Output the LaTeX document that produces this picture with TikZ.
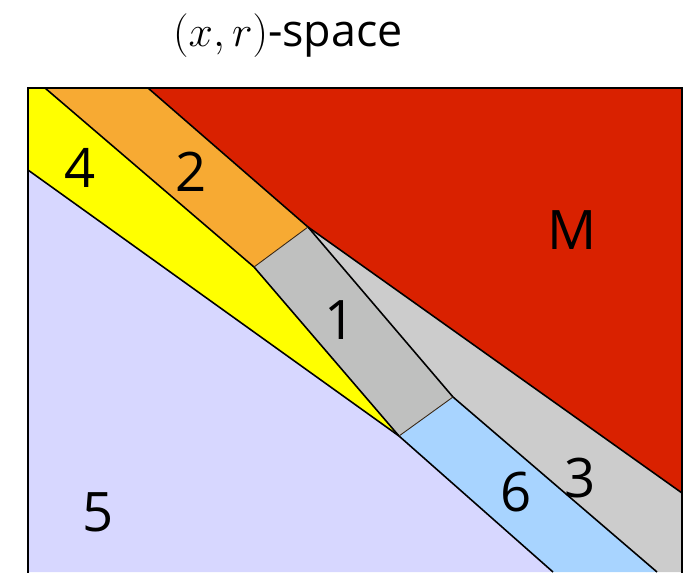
\documentclass[tikz,border=0pt]{standalone}
\usepackage{fontspec}
\setsansfont{Open Sans}
\definecolor{colM}{HTML}{D92100}
\definecolor{colTwo}{HTML}{F7AA33}
\definecolor{colFour}{HTML}{FFFF00}
\definecolor{colFive}{HTML}{D7D7FF}
\definecolor{colOne}{HTML}{BFC0BF}
\definecolor{colThree}{HTML}{CCCCCC}
\definecolor{colSix}{HTML}{A8D4FF}

\begin{document}
\begin{tikzpicture}[x=0.02cm, y=-0.02cm, font=\sffamily,
  area/.style={draw=black, line width=0.9pt, line join=round},
  thin edge/.style={draw=black!70!brown, line width=0.5pt},
  num/.style={font=\sffamily\fontsize{31}{36}\selectfont}]
\useasboundingbox (0,0) rectangle (692,572);
\clip (0,0) rectangle (692,572);
% corners of the regions
\coordinate (tl) at (28,88);
\coordinate (t4) at (45,88);
\coordinate (t2) at (148,88);
\coordinate (tr) at (682,88);
\coordinate (l5) at (28,170);
\coordinate (pA) at (254,267);
\coordinate (pB) at (308,227);
\coordinate (pC) at (453,397);
\coordinate (pD) at (399,436);
\coordinate (r3) at (682,493);
\coordinate (b6) at (553,572);
\coordinate (b3) at (657,572);
\coordinate (br) at (682,572);
\coordinate (bl) at (28,572);
% regions
\fill[colFive] (l5) -- (pD) -- (b6) -- (bl) -- cycle;
\fill[colFour] (tl) -- (t4) -- (pA) -- (pD) -- (l5) -- cycle;
\fill[colTwo] (t4) -- (t2) -- (pB) -- (pA) -- cycle;
\fill[colM] (t2) -- (tr) -- (r3) -- (pB) -- cycle;
\fill[colOne] (pA) -- (pB) -- (pC) -- (pD) -- cycle;
\fill[colThree] (pB) -- (r3) -- (br) -- (b3) -- (pC) -- cycle;
\fill[colSix] (pD) -- (pC) -- (b3) -- (b6) -- cycle;
% boundaries
\draw[area] (l5) -- (pD) -- (b6);
\draw[area] (t4) -- (pA) -- (pD);
\draw[area] (t2) -- (pB) -- (r3);
\draw[area] (pB) -- (pC) -- (b3);
\draw[thin edge] (pA) -- (pB);
\draw[thin edge] (pD) -- (pC);
\draw[line width=1.2pt] (28,600) -- (tl) -- (tr) -- (682,600);
% labels
\node[num] (n4) at (80,168) {4};
\node[num] (n2) at (191,172) {2};
\node[num] (nM) at (572,230) {M};
\node[num] (n1) at (340,320) {1};
\node[num] (n3) at (580,478) {3};
\node[num] (n6) at (516,492) {6};
\node[num] (n5) at (98,512) {5};
\node[font=\sffamily\fontsize{25.5}{30}\selectfont] (title) at (288,36) {$(x,r)$-space};
\end{tikzpicture}
\end{document}
